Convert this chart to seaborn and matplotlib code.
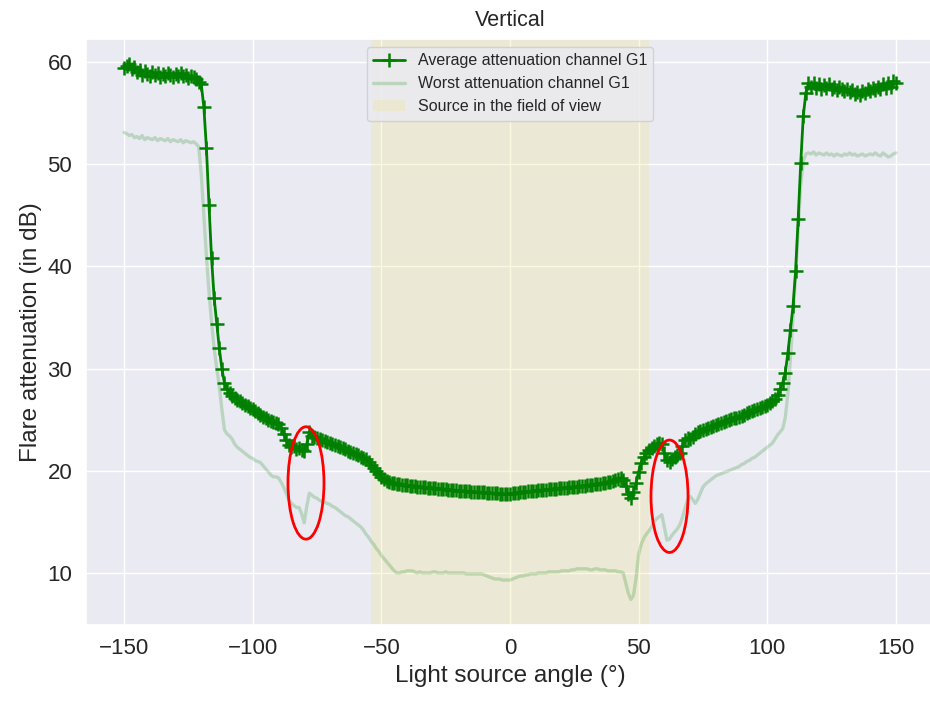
import numpy as np
import pandas as pd
import matplotlib
matplotlib.use("Agg")
import matplotlib.pyplot as plt
from matplotlib.patches import Ellipse
import seaborn as sns

# ---------------- data ----------------
angles = list(range(-150, 151))

avg_attenuation = [
    59.4, 59.6, 59.8, 59.3, 59.5, 59.0, 59.2, 58.7, 59.1, 58.8,   # -150..-141
    58.6, 59.0, 58.7, 58.9, 58.5, 58.8, 58.6, 58.9, 58.7, 58.5,   # -140..-131
    58.8, 58.6, 58.9, 58.6, 58.7, 58.4, 58.6, 58.5, 58.3, 58.0,   # -130..-121
    57.8, 55.6, 51.6, 46.0, 40.8, 36.9, 34.4, 32.0, 30.0, 28.6,   # -120..-111
    28.0, 27.6, 27.3, 27.1, 26.9, 26.8, 26.6, 26.4, 26.3, 26.1,   # -110..-101
    26.0, 25.8, 25.6, 25.5, 25.3, 25.2, 25.0, 24.9, 24.8, 24.7,   # -100..-91
    24.6, 24.2, 23.6, 23.0, 22.5, 22.3, 22.4, 22.1, 22.2, 22.0,   # -90..-81
    21.9, 22.6, 23.8, 23.4, 23.3, 23.2, 23.1, 23.0, 22.9, 22.8,   # -80..-71
    22.7, 22.6, 22.5, 22.4, 22.3, 22.2, 22.1, 21.9, 21.8, 21.7,   # -70..-61
    21.6, 21.5, 21.3, 21.2, 21.1, 20.9, 20.6, 20.3, 20.0, 19.7,   # -60..-51
    19.4, 19.2, 19.0, 18.9, 18.8, 18.8, 18.7, 18.7, 18.6, 18.6,   # -50..-41
    18.6, 18.5, 18.5, 18.5, 18.4, 18.4, 18.4, 18.4, 18.3, 18.3,   # -40..-31
    18.3, 18.3, 18.2, 18.2, 18.2, 18.2, 18.1, 18.1, 18.1, 18.1,   # -30..-21
    18.0, 18.0, 18.0, 18.0, 18.0, 17.9, 17.9, 17.9, 17.9, 17.9,   # -20..-11
    17.9, 17.8, 17.8, 17.8, 17.8, 17.8, 17.7, 17.7, 17.7, 17.7,   # -10..-1
    17.7, 17.8, 17.8, 17.8, 17.9, 17.9, 17.9, 18.0, 18.0, 18.0,   # 0..9
    18.0, 18.1, 18.1, 18.1, 18.1, 18.2, 18.2, 18.2, 18.2, 18.3,   # 10..19
    18.3, 18.3, 18.3, 18.4, 18.4, 18.4, 18.4, 18.5, 18.5, 18.5,   # 20..29
    18.6, 18.6, 18.6, 18.7, 18.7, 18.7, 18.8, 18.8, 18.9, 18.9,   # 30..39
    19.0, 19.1, 19.2, 19.3, 19.1, 18.5, 17.7, 17.3, 17.9, 18.8,   # 40..49
    19.9, 20.8, 21.3, 21.7, 22.0, 22.2, 22.4, 22.6, 22.7, 22.6,   # 50..59
    21.7, 21.0, 20.9, 21.1, 21.3, 21.5, 21.7, 22.4, 23.0, 23.2,   # 60..69
    23.1, 23.3, 23.6, 23.8, 23.9, 24.0, 24.1, 24.2, 24.3, 24.4,   # 70..79
    24.5, 24.6, 24.7, 24.8, 24.9, 25.0, 25.1, 25.2, 25.2, 25.3,   # 80..89
    25.4, 25.5, 25.6, 25.7, 25.8, 25.9, 26.0, 26.1, 26.2, 26.3,   # 90..99
    26.4, 26.6, 26.8, 27.0, 27.4, 28.0, 28.6, 29.6, 31.5, 33.8,   # 100..109
    36.1, 39.5, 44.6, 50.1, 54.7, 57.0, 57.9, 57.6, 57.9, 57.5,   # 110..119
    57.8, 57.4, 57.7, 57.5, 57.8, 57.4, 57.6, 57.3, 57.6, 57.4,   # 120..129
    57.2, 57.4, 57.1, 57.3, 56.9, 57.1, 56.8, 57.2, 57.0, 57.4,   # 130..139
    57.2, 57.5, 57.3, 57.6, 57.4, 57.8, 57.5, 57.9, 57.6, 58.1,   # 140..149
    57.9,                                                         # 150
]

worst_attenuation = [
    53.1, 53.0, 52.8, 52.9, 52.6, 52.7, 52.5, 52.8, 52.4, 52.6,   # -150..-141
    52.5, 52.4, 52.6, 52.3, 52.5, 52.4, 52.3, 52.5, 52.2, 52.4,   # -140..-131
    52.3, 52.2, 52.4, 52.1, 52.3, 52.2, 52.1, 52.2, 52.0, 51.7,   # -130..-121
    49.0, 45.0, 41.0, 37.5, 34.5, 32.0, 30.0, 28.3, 26.0, 24.0,   # -120..-111
    23.6, 23.4, 23.1, 22.6, 22.3, 22.1, 21.9, 21.7, 21.5, 21.3,   # -110..-101
    21.2, 21.0, 20.9, 20.8, 20.5, 20.2, 19.9, 19.6, 19.4, 19.4,   # -100..-91
    19.3, 18.9, 18.4, 17.8, 17.2, 16.8, 16.6, 16.4, 16.4, 15.8,   # -90..-81
    14.9, 16.5, 17.8, 17.6, 17.4, 17.3, 17.1, 17.0, 16.9, 16.8,   # -80..-71
    16.7, 16.5, 16.4, 16.2, 16.0, 15.8, 15.6, 15.5, 15.3, 15.1,   # -70..-61
    14.9, 14.7, 14.5, 14.2, 13.8, 13.5, 13.1, 12.8, 12.4, 12.1,   # -60..-51
    11.7, 11.4, 11.1, 10.8, 10.5, 10.2, 10.0, 10.0, 10.1, 10.1,   # -50..-41
    10.2, 10.2, 10.2, 10.1, 10.0, 10.1, 10.0, 10.0, 10.0, 10.0,   # -40..-31
    10.1, 10.1, 10.0, 10.0, 10.0, 10.1, 10.0, 10.0, 10.0, 10.0,   # -30..-21
    10.0, 10.0, 10.0, 9.9, 9.9, 9.9, 9.9, 9.9, 9.9, 9.9,          # -20..-11
    9.8, 9.7, 9.6, 9.5, 9.4, 9.4, 9.4, 9.3, 9.3, 9.3,             # -10..-1
    9.3, 9.4, 9.5, 9.6, 9.7, 9.7, 9.8, 9.8, 9.9, 9.9,             # 0..9
    9.9, 10.0, 10.0, 10.0, 10.0, 10.1, 10.1, 10.1, 10.1, 10.1,    # 10..19
    10.2, 10.2, 10.2, 10.2, 10.3, 10.3, 10.4, 10.4, 10.4, 10.4,   # 20..29
    10.4, 10.3, 10.3, 10.4, 10.4, 10.3, 10.3, 10.3, 10.2, 10.2,   # 30..39
    10.2, 10.2, 10.1, 10.1, 10.0, 9.0, 8.0, 7.4, 7.8, 9.5,        # 40..49
    11.8, 12.8, 13.4, 13.8, 14.1, 14.5, 15.0, 15.3, 15.5, 15.7,   # 50..59
    14.5, 13.2, 13.3, 13.7, 14.0, 14.3, 14.7, 15.4, 16.3, 17.1,   # 60..69
    17.5, 17.2, 16.8, 17.2, 17.8, 18.4, 18.7, 18.9, 19.1, 19.3,   # 70..79
    19.5, 19.6, 19.7, 19.8, 19.9, 20.0, 20.1, 20.2, 20.3, 20.4,   # 80..89
    20.6, 20.7, 20.9, 21.0, 21.2, 21.3, 21.5, 21.7, 21.9, 22.1,   # 90..99
    22.3, 22.5, 22.7, 23.1, 23.5, 23.8, 24.1, 25.2, 27.5, 31.0,   # 100..109
    35.0, 39.0, 43.5, 48.0, 50.3, 51.0, 51.1, 51.0, 51.2, 50.9,   # 110..119
    51.1, 51.0, 50.9, 51.1, 50.9, 51.0, 50.8, 51.0, 50.9, 50.8,   # 120..129
    51.0, 50.9, 51.1, 50.9, 51.0, 50.8, 50.9, 51.0, 50.8, 50.9,   # 130..139
    51.0, 50.9, 51.1, 50.9, 50.8, 51.1, 50.9, 50.7, 50.8, 51.0,   # 140..149
    51.1,                                                         # 150
]

fov_limits = [-54, 54]
highlight_centers = [(-79.3, 18.8), (62.0, 17.5)]
highlight_sizes = [(14.0, 11.0), (14.4, 11.0)]

df = pd.DataFrame({"angle": angles, "avg": avg_attenuation, "worst": worst_attenuation})

# ---------------- style ----------------
sns.set_theme(style="darkgrid")
plt.rcParams["font.family"] = ["Liberation Sans", "DejaVu Sans"]

fig = plt.figure(figsize=(9.30, 7.03), dpi=100)
ax = fig.add_axes([85.5 / 930, 1 - 625 / 703, 849 / 930, 586 / 703])

sns.lineplot(data=df, x="angle", y="avg", ax=ax, color="green", linewidth=2,
             marker="+", markersize=10, markeredgewidth=1.8,
             markeredgecolor="green", label="Average attenuation channel G1")
sns.lineplot(data=df, x="angle", y="worst", ax=ax, color="green", alpha=0.2,
             linewidth=2.4, label="Worst attenuation channel G1")
ax.axvspan(fov_limits[0], fov_limits[1], color="khaki", alpha=0.28, lw=0,
           label="Source in the field of view")

for (cx, cy), (w, h) in zip(highlight_centers, highlight_sizes):
    ax.add_patch(Ellipse((cx, cy), w, h, fill=False, edgecolor="red", lw=2, zorder=5))

ax.set_ylim(4.9, 62.25)
ax.set_xticks([-150, -100, -50, 0, 50, 100, 150])
ax.set_yticks([10, 20, 30, 40, 50, 60])
ax.tick_params(labelsize=16)
ax.set_xlabel("Light source angle (°)", fontsize=17.5)
ax.set_ylabel("Flare attenuation (in dB)", fontsize=17.5)
ax.set_title("Vertical", fontsize=15.5, pad=9)
ax.legend(loc="upper center", fontsize=11.5)

fig.savefig("out.png", dpi=100)
